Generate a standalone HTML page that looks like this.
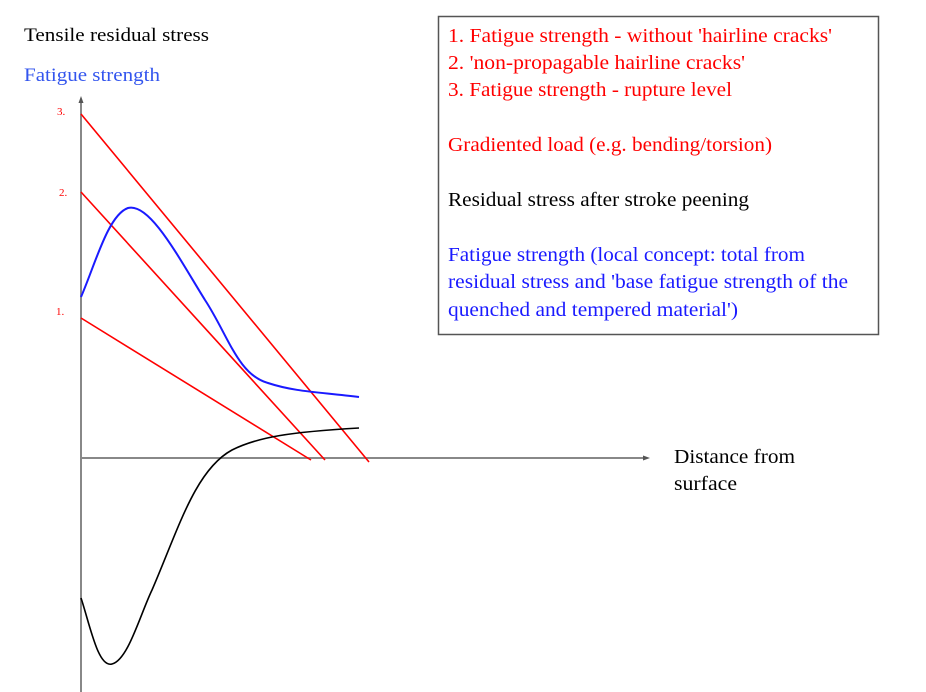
<!DOCTYPE html>
<html><head><style>
html,body{margin:0;padding:0;background:#fff;}
svg{display:block;}
text{font-family:"Liberation Serif",serif;}
</style></head><body>
<svg width="926" height="692" viewBox="0 0 926 692" xmlns="http://www.w3.org/2000/svg">
<rect width="926" height="692" fill="#fff"/>
<text x="24" y="41" font-size="19" fill="#000" textLength="185" lengthAdjust="spacingAndGlyphs">Tensile residual stress</text>
<text x="24" y="81" font-size="19" fill="#3355ee" textLength="136" lengthAdjust="spacingAndGlyphs">Fatigue strength</text>
<text x="57" y="115" font-size="11" fill="#f00">3.</text>
<text x="59" y="196" font-size="11" fill="#f00">2.</text>
<text x="56" y="315" font-size="11" fill="#f00">1.</text>
<line x1="81" y1="100" x2="81" y2="692" stroke="#888" stroke-width="2"/>
<polygon points="81,96 78.5,103 83.5,103" fill="#555"/>
<line x1="81" y1="458" x2="645" y2="458" stroke="#888" stroke-width="2"/>
<polygon points="650,458 643,455.5 643,460.5" fill="#555"/>
<text x="674" y="463" font-size="20" fill="#000" textLength="121" lengthAdjust="spacingAndGlyphs">Distance from</text>
<text x="674" y="490" font-size="20" fill="#000" textLength="63" lengthAdjust="spacingAndGlyphs">surface</text>
<g stroke="#f00" stroke-width="1.6" fill="none">
<line x1="81" y1="114" x2="369" y2="462"/>
<line x1="81" y1="192" x2="325" y2="460"/>
<line x1="81" y1="318" x2="311" y2="460"/>
</g>
<path d="M81,297 C95,265 108,215 128,208 C150,202 180,260 205,300 C228,335 238,375 268,383 C295,392 320,392 359,397" stroke="#1a1aff" stroke-width="2" fill="none"/>
<path d="M81,598 C90,625 98,668 112,664 C128,660 140,615 152,590 C178,530 195,470 232,450 C258,437 290,432 359,428" stroke="#000" stroke-width="1.6" fill="none"/>
<rect x="438.5" y="16.5" width="440" height="318" fill="#fff" stroke="#555" stroke-width="1.5"/>
<g font-size="20" lengthAdjust="spacingAndGlyphs">
<text x="448" y="42" fill="#f00" textLength="384" lengthAdjust="spacingAndGlyphs">1. Fatigue strength - without  'hairline cracks'</text>
<text x="448" y="69" fill="#f00" textLength="297" lengthAdjust="spacingAndGlyphs">2.  'non-propagable hairline cracks'</text>
<text x="448" y="96" fill="#f00" textLength="284" lengthAdjust="spacingAndGlyphs">3. Fatigue strength - rupture level</text>
<text x="448" y="151" fill="#f00" textLength="324" lengthAdjust="spacingAndGlyphs">Gradiented load (e.g. bending/torsion)</text>
<text x="448" y="206" fill="#000" textLength="301" lengthAdjust="spacingAndGlyphs">Residual stress after stroke peening</text>
<text x="448" y="261" fill="#1a1aff" textLength="357" lengthAdjust="spacingAndGlyphs">Fatigue strength (local concept: total from</text>
<text x="448" y="288" fill="#1a1aff" textLength="400" lengthAdjust="spacingAndGlyphs">residual stress and  'base fatigue strength of the</text>
<text x="448" y="316" fill="#1a1aff" textLength="290" lengthAdjust="spacingAndGlyphs">quenched and tempered material')</text>
</g>
</svg>
</body></html>
